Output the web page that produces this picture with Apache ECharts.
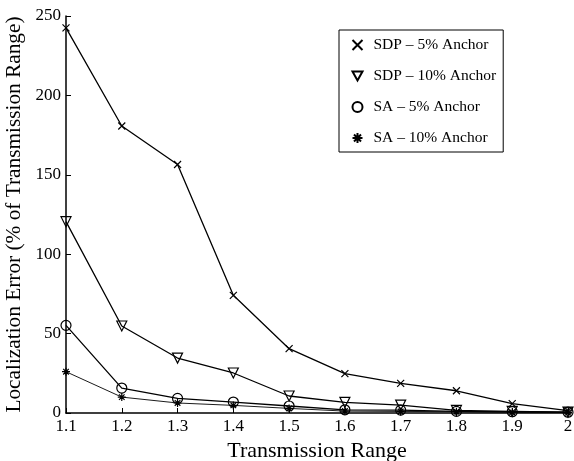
<!DOCTYPE html>
<html><head><meta charset="utf-8">
<script src="https://cdn.jsdelivr.net/npm/echarts@6/dist/echarts.min.js"></script>
<style>html,body{margin:0;padding:0;background:#fff}#c{width:574px;height:461px}</style>
</head><body><div id="c"></div>
<script>
const categories = ['1.1','1.2','1.3','1.4','1.5','1.6','1.7','1.8','1.9','2'];
const sdp5  = [242.5, 180.7, 156.5, 74.1, 40.5, 24.8, 18.7, 14.0, 5.9, 1.5];
const sdp10 = [120.5, 54.8, 34.6, 25.2, 10.7, 6.7, 5.0, 1.6, 1.0, 0.5];
const sa5   = [55.2, 15.7, 9.2, 6.9, 4.4, 2.0, 1.8, 1.0, 0.8, 0.5];
const sa10  = [26.0, 10.0, 6.3, 4.8, 2.9, 1.2, 1.0, 0.8, 0.5, 0.3];
const names = ['SDP – 5% Anchor','SDP – 10% Anchor','SA – 5% Anchor','SA – 10% Anchor'];
const yTicks = [0, 50, 100, 150, 200, 250];

const FONT = '"Liberation Serif", "DejaVu Serif", serif';
const symX = 'path://M0,0 L10,10 M10,0 L0,10';
const symTri = 'path://M0,0 L10,0 L5,9 Z';
const symStar = 'path://M5,0 L5,10 M0,5 L10,5 M1.5,1.5 L8.5,8.5 M8.5,1.5 L1.5,8.5';

function mk(name, data, symbol, size, width) {
  return {
    name, type: 'line', data, symbol, symbolSize: size,
    lineStyle: {color: '#000', width: width},
    itemStyle: {color: 'none', borderColor: '#000', borderWidth: 1.2},
    emphasis: {disabled: true}, animation: false
  };
}

const chart = echarts.init(document.getElementById('c'));
chart.setOption({
  backgroundColor: '#fff',
  animation: false,
  grid: {left: 66, right: 6, top: 16, bottom: 48, containLabel: false, outerBoundsMode: 'none'},
  legend: {
    orient: 'vertical', left: 339, top: 30,
    padding: [7, 7, 6, 11],
    borderColor: '#000', borderWidth: 1,
    itemGap: 15, itemWidth: 10, itemHeight: 10,
    textStyle: {fontFamily: FONT, fontSize: 15.5, color: '#000', padding: [0, 0, 0, 6]},
    data: [
      {name: names[0], icon: symX},
      {name: names[1], icon: symTri},
      {name: names[2], icon: 'circle'},
      {name: names[3], icon: symStar}
    ],
    selectedMode: false
  },
  xAxis: {
    type: 'category', data: categories, boundaryGap: false,
    name: 'Transmission Range', nameLocation: 'middle', nameGap: 23,
    nameTextStyle: {fontFamily: FONT, fontSize: 22, color: '#000'},
    axisLine: {lineStyle: {color: '#000', width: 1.5}},
    axisTick: {inside: true, length: 5, alignWithLabel: true, lineStyle: {color: '#000'}},
    axisLabel: {fontFamily: FONT, fontSize: 17, color: '#000', margin: 5},
    splitLine: {show: false}
  },
  yAxis: {
    type: 'value', min: yTicks[0], max: yTicks[yTicks.length - 1], interval: 50,
    name: 'Localization Error (% of Transmission Range)', nameLocation: 'middle', nameGap: 28,
    nameTextStyle: {fontFamily: FONT, fontSize: 21.3, color: '#000'},
    axisLine: {show: true, lineStyle: {color: '#000', width: 1.5}},
    axisTick: {show: true, inside: true, length: 5, lineStyle: {color: '#000'}},
    axisLabel: {fontFamily: FONT, fontSize: 17, color: '#000', margin: 5},
    splitLine: {show: false}
  },
  series: [
    mk(names[0], sdp5, symX, 7, 1.3),
    mk(names[1], sdp10, symTri, 10, 1.3),
    mk(names[2], sa5, 'circle', 10, 1.3),
    mk(names[3], sa10, symStar, 8, 0.9)
  ]
});
</script></body></html>
